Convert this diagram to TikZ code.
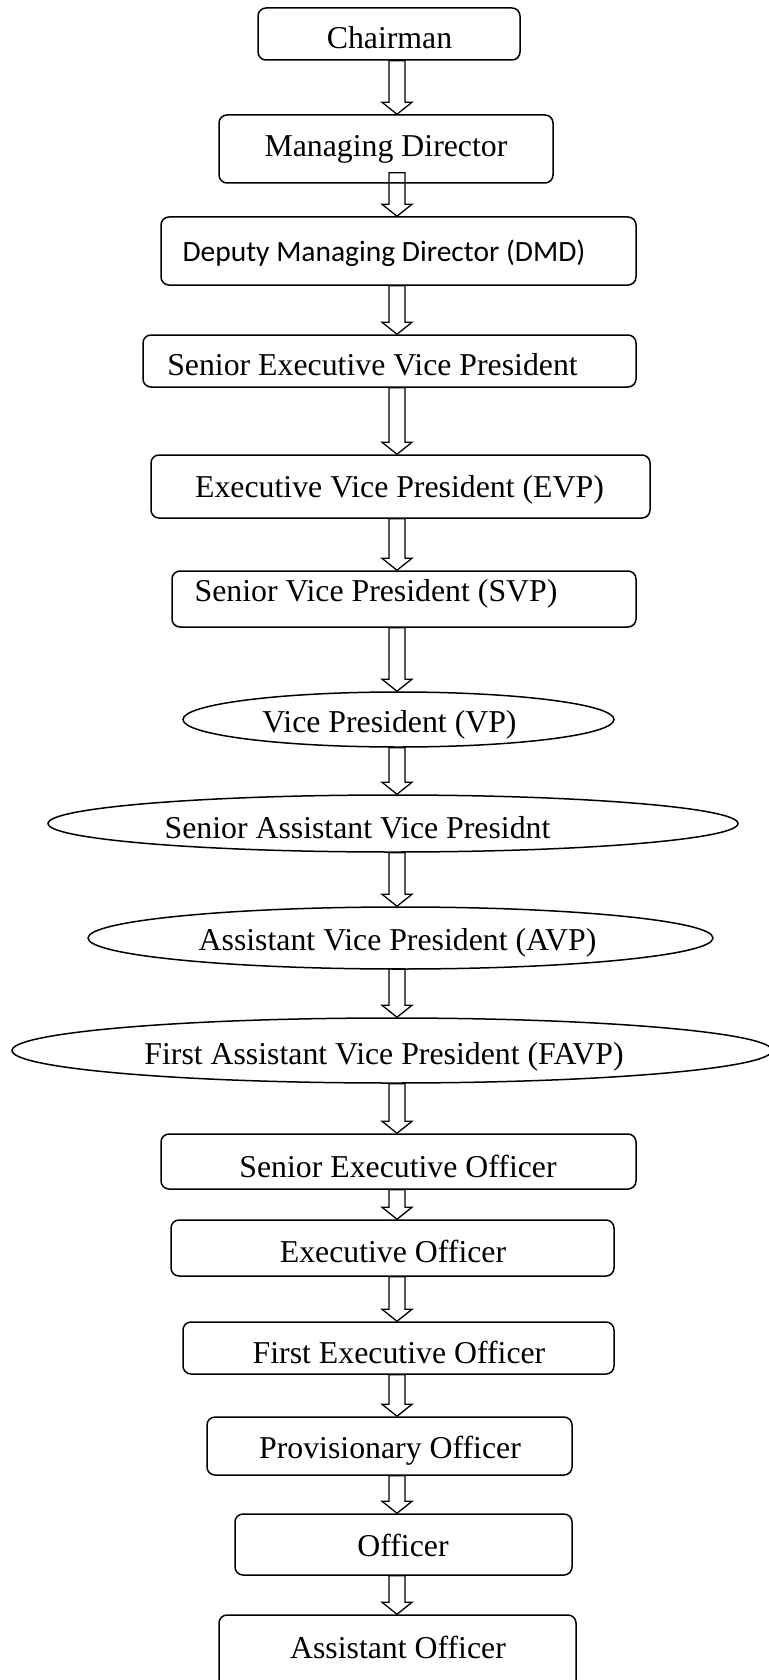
\documentclass[tikz,border=0pt]{standalone}
\usepackage{fontspec}
\setmainfont{Liberation Serif}
\newfontfamily\calibrifont{Carlito}
\usetikzlibrary{shapes.geometric,calc}

\tikzset{
	post/.style={draw, rounded corners=8pt, line width=1.5pt, inner sep=0pt},
	postell/.style={draw, ellipse, line width=1.5pt, inner sep=0pt},
	rank/.style={font=\fontsize{31.8}{38}\selectfont, text height=21pt, text depth=0pt, inner sep=0pt},
	hollow/.style={draw, line width=1.3pt, line join=miter},
}

\begin{document}
\begin{tikzpicture}[x=1pt,y=-1pt]
		\useasboundingbox (0,0) rectangle (768,1680);
		\coordinate (spine) at (397,0);
		%boxes
		\node[post, minimum width=262pt, minimum height=52pt] (chair) at (389,34) {};
		\node[post, minimum width=334pt, minimum height=68pt] (md) at (386,149) {};
		\node[post, minimum width=475pt, minimum height=68pt] (dmd) at (398.5,251) {};
		\node[post, minimum width=493pt, minimum height=52pt] (sevp) at (389.5,361) {};
		\node[post, minimum width=499pt, minimum height=63pt] (evp) at (400.5,486.5) {};
		\node[post, minimum width=464pt, minimum height=56pt] (svp) at (404,599) {};
		%ellipses
		\node[postell, minimum width=431pt, minimum height=55pt] (vp) at (398.5,719.5) {};
		\node[postell, minimum width=690pt, minimum height=57pt] (savp) at (393,823.5) {};
		\node[postell, minimum width=625pt, minimum height=62pt] (avp) at (400.5,938) {};
		\node[postell, minimum width=760pt, minimum height=65pt] (favp) at (392,1050.5) {};
		%officers
		\node[post, minimum width=475pt, minimum height=55pt] (seo) at (398.5,1161.5) {};
		\node[post, minimum width=443pt, minimum height=56pt] (eo) at (392.5,1248) {};
		\node[post, minimum width=431pt, minimum height=52pt] (feo) at (398.5,1348) {};
		\node[post, minimum width=365pt, minimum height=58pt] (po) at (389.5,1446) {};
		\node[post, minimum width=337pt, minimum height=61pt] (off) at (403.5,1544.5) {};
		\node[post, minimum width=357pt, minimum height=90pt] (ao) at (397.5,1660) {};
		%titles
		\node[rank] (chair-t) at (389.5,38.5) {Chairman};
		\node[rank] (md-t) at (386,146) {Managing Director};
		\node[rank, font=\calibrifont\fontsize{29.5}{35}\selectfont, text height=19pt] (dmd-t) at (384,252) {Deputy Managing Director (DMD)};
		\node[rank] (sevp-t) at (372.5,365) {Senior Executive Vice President};
		\node[rank] (evp-t) at (399.5,487) {Executive Vice President (EVP)};
		\node[rank] (svp-t) at (376,591) {Senior Vice President (SVP)};
		\node[rank] (vp-t) at (389.5,722) {Vice President (VP)};
		\node[rank] (savp-t) at (357.5,827.5) {Senior Assistant Vice Presidnt};
		\node[rank] (avp-t) at (397.5,940) {Assistant Vice President (AVP)};
		\node[rank] (favp-t) at (384,1053.5) {First Assistant Vice President (FAVP)};
		\node[rank] (seo-t) at (398,1166.5) {Senior Executive Officer};
		\node[rank] (eo-t) at (393,1252) {Executive Officer};
		\node[rank] (feo-t) at (399,1353) {First Executive Officer};
		\node[rank] (po-t) at (390,1448) {Provisionary Officer};
		\node[rank] (off-t) at (403,1545.5) {Officer};
		\node[rank] (ao-t) at (398,1647.5) {Assistant Officer};
		%arrows
		\foreach \a/\b/\o in {chair/md/0pt, md/dmd/11pt, dmd/sevp/0pt, sevp/evp/0pt, evp/svp/0pt,
				svp/vp/0pt, vp/savp/0pt, savp/avp/0pt, avp/favp/1pt, favp/seo/0pt, seo/eo/0pt,
				eo/feo/0pt, feo/po/0pt, po/off/0pt, off/ao/0pt}
			\draw[hollow] let \p1=(\a.south -| spine), \p2=(\b.north -| spine) in
				(\x1-8pt,\y1+\o) -- (\x1-8pt,\y2+12pt) -- (\x1-15pt,\y2+12pt) -- (\x2,\y2)
				-- (\x1+15pt,\y2+12pt) -- (\x1+8pt,\y2+12pt) -- (\x1+8pt,\y1+\o) -- cycle;
	\end{tikzpicture}
\end{document}
